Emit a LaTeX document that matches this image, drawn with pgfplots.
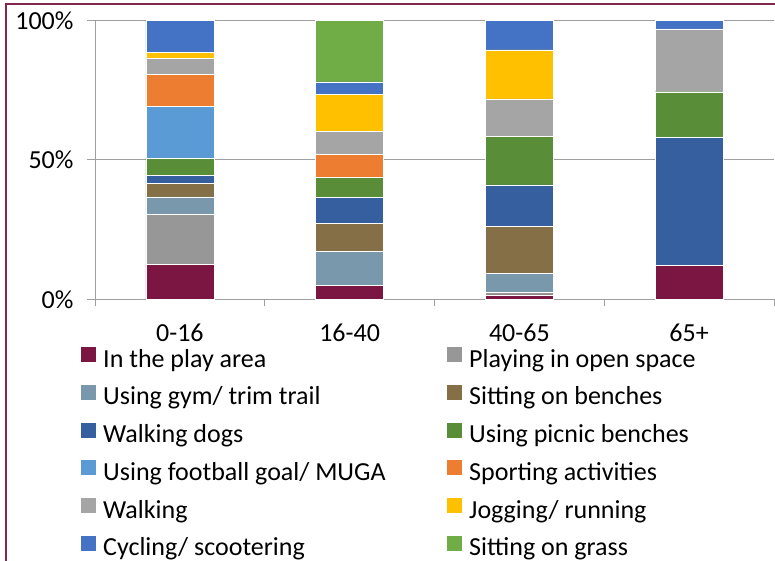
\documentclass[border=0pt]{standalone}
\usepackage{fontspec}
\setmainfont{Carlito}
\usepackage{pgfplots}
\pgfplotsset{compat=1.18}
\definecolor{cPlay}{RGB}{123,21,65}
\definecolor{cOpen}{RGB}{151,151,151}
\definecolor{cGym}{RGB}{122,152,172}
\definecolor{cBench}{RGB}{132,111,71}
\definecolor{cDogs}{RGB}{54,95,160}
\definecolor{cPicnic}{RGB}{90,141,56}
\definecolor{cFoot}{RGB}{91,155,213}
\definecolor{cSport}{RGB}{237,125,49}
\definecolor{cWalk}{RGB}{165,165,165}
\definecolor{cJog}{RGB}{255,192,0}
\definecolor{cCycle}{RGB}{68,114,196}
\definecolor{cGrass}{RGB}{112,173,71}
\definecolor{cBorder}{RGB}{128,40,80}
\newcommand{\lf}{\fontsize{26}{31}\selectfont}
\begin{document}
\begin{tikzpicture}
\useasboundingbox (0,0) rectangle (775pt,561pt);
\fill[white] (0,0) rectangle (775pt,561pt);
\draw[color=cBorder, line width=1.5pt] (6pt,0) -- (6pt,557pt) -- (775pt,557pt);
\begin{axis}[
  at={(95pt,261.7pt)}, anchor=south west,
  scale only axis, width=679pt, height=279pt,
  ybar stacked, bar width=0.4,
  xmin=-0.5, xmax=3.5, ymin=0, ymax=100,
  axis x line*=bottom, axis y line*=left,
  axis line style={draw=gray!75, line width=0.9pt},
  xtick={0,1,2,3}, xticklabels={0-16,16-40,40-65,65+},
  minor xtick={-0.5,0.5,1.5,2.5,3.5},
  ytick={0,50,100}, yticklabels={0\%,50\%,100\%},
  tick align=outside,
  major tick length=8pt, minor tick length=7pt,
  major x tick style={draw=none},
  tick style={draw=gray!75, line width=0.9pt},
  ymajorgrids, major grid style={draw=gray!75, line width=0.9pt},
  tick label style={font=\lf},
  xticklabel style={anchor=base, yshift=-34pt},
  yticklabel style={anchor=east, xshift=-10pt},
  every axis plot/.append style={draw=white, line width=0.4pt},
  legend columns=2,
  legend cell align=left,
  legend image code/.code={\fill[#1, draw=none] (0pt,-1pt) rectangle (15pt,14pt);},
  legend style={at={(axis description cs:-0.0206,-0.171)}, anchor=north west,
    draw=none, fill=none, inner sep=0pt, row sep=11.7pt, font=\lf,
    nodes={inner sep=0pt, text height=18pt, text depth=6pt},
    /tikz/every odd column/.append style={column sep=7pt}},
]
\addplot[fill=cPlay] coordinates {(0,12.5) (1,4.9) (2,1.6) (3,12.2)};
\addlegendentry{\makebox[344pt][l]{In the play area}}
\addplot[fill=cOpen] coordinates {(0,17.9) (1,0) (2,1.0) (3,0)};
\addlegendentry{Playing in open space}
\addplot[fill=cGym] coordinates {(0,6.3) (1,12.2) (2,6.8) (3,0)};
\addlegendentry{\makebox[344pt][l]{Using gym/ trim trail}}
\addplot[fill=cBench] coordinates {(0,4.9) (1,10.0) (2,16.8) (3,0)};
\addlegendentry{Sitting on benches}
\addplot[fill=cDogs] coordinates {(0,2.7) (1,9.4) (2,14.8) (3,45.8)};
\addlegendentry{\makebox[344pt][l]{Walking dogs}}
\addplot[fill=cPicnic] coordinates {(0,6.3) (1,7.2) (2,17.3) (3,16.4)};
\addlegendentry{Using picnic benches}
\addplot[fill=cFoot] coordinates {(0,18.6) (1,0) (2,0) (3,0)};
\addlegendentry{\makebox[344pt][l]{Using football goal/ MUGA}}
\addplot[fill=cSport] coordinates {(0,11.5) (1,8.2) (2,0) (3,0)};
\addlegendentry{Sporting activities}
\addplot[fill=cWalk] coordinates {(0,5.7) (1,8.4) (2,13.5) (3,22.5)};
\addlegendentry{\makebox[344pt][l]{Walking}}
\addplot[fill=cJog] coordinates {(0,2.2) (1,13.1) (2,17.6) (3,0)};
\addlegendentry{Jogging/ running}
\addplot[fill=cCycle] coordinates {(0,11.4) (1,4.5) (2,10.6) (3,3.1)};
\addlegendentry{\makebox[344pt][l]{Cycling/ scootering}}
\addplot[fill=cGrass] coordinates {(0,0) (1,22.1) (2,0) (3,0)};
\addlegendentry{Sitting on grass}
\end{axis}
\end{tikzpicture}
\end{document}
